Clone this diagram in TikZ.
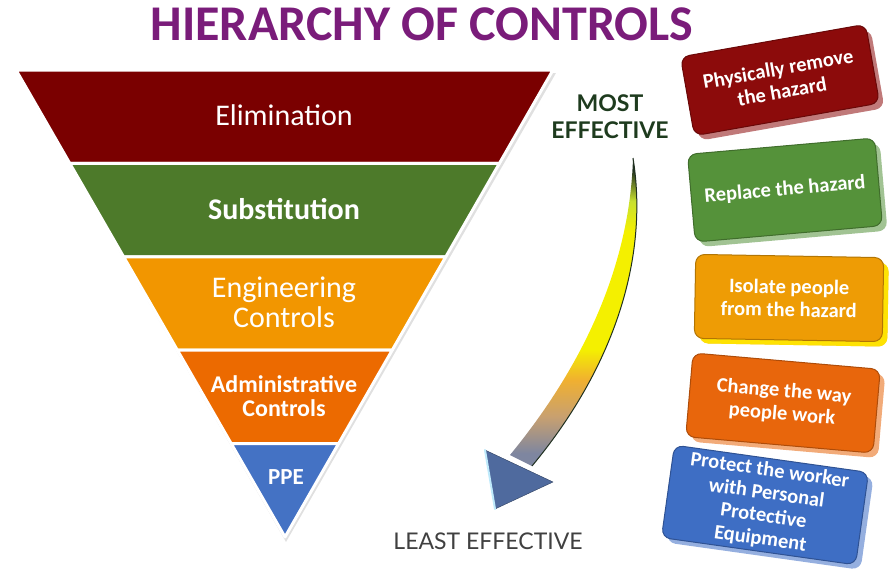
\documentclass[tikz,border=0pt]{standalone}
\usepackage{fontspec}
\setmainfont{Carlito}
\newfontfamily\labelfont{Lato}
\usetikzlibrary{calc,positioning,shadows}
\definecolor{titlepurple}{HTML}{7A1C7A}
\definecolor{elimred}{HTML}{7A0000}
\definecolor{substgreen}{HTML}{4D7A2A}
\definecolor{enggold}{HTML}{F29600}
\definecolor{adminorange}{HTML}{EC6A00}
\definecolor{ppeblue}{HTML}{4472C4}
\definecolor{boxred}{HTML}{8C0B0B}
\definecolor{boxgreen}{HTML}{55923A}
\definecolor{boxgold}{HTML}{EE9C05}
\definecolor{boxorange}{HTML}{E8660C}
\definecolor{boxblue}{HTML}{3E6EC4}
\definecolor{mostgreen}{HTML}{1E3B1E}
\definecolor{headblue}{HTML}{4F6A9E}
\definecolor{shaftgray}{HTML}{7E86A0}
\definecolor{shafttan}{HTML}{C8A070}
\definecolor{shaftorange}{HTML}{F0B030}
\definecolor{shaftyellow}{HTML}{F4F000}
\definecolor{shaftlime}{HTML}{C8E030}
\definecolor{shaftdark}{HTML}{203020}
\pgfdeclareverticalshading{arrowbody}{100bp}{color(0bp)=(shaftgray); color(27bp)=(shaftgray); color(33bp)=(shafttan); color(39bp)=(shaftorange); color(44bp)=(shaftyellow); color(63bp)=(shaftyellow); color(68bp)=(shaftlime); color(73bp)=(shaftdark); color(100bp)=(shaftdark)}
\tikzset{
    %Define style for the bands of the triangle
    band/.style={
           fill=#1,
           draw=white,
           line width=3pt,
           line join=round},
    %Define style for band labels
    bandtext/.style={
           text=white,
           align=center,
           font=\fontsize{30}{30}\selectfont},
    %Define style for boxes on the right
    kasse/.style={
           rectangle,
           rounded corners=9pt,
           fill=#1,
           draw=#1!75!black,
           line width=1pt,
           minimum width=188pt,
           minimum height=80pt,
           text=white,
           align=center,
           font=\bfseries\fontsize{20.5}{23}\selectfont,
           general shadow={fill=#1!55!white, shadow xshift=5pt, shadow yshift=-5pt}},
    % Define style for side labels
    seite/.style={
           align=center,
           font=\labelfont\fontsize{23}{27}\selectfont}
}
\begin{document}
\begin{tikzpicture}[x=1pt, y=-1pt]
  \useasboundingbox (0,0) rectangle (892,568);
  \node[text=titlepurple, font=\bfseries\fontsize{50}{54}\selectfont] (title) at (422,24) {HIERARCHY OF CONTROLS};
  % inverted triangle
  \coordinate (tl) at (16,70);
  \coordinate (tr) at (553,70);
  \coordinate (apex) at (285,537);
  \fill[black!12] ($(tl)+(1,3)$) -- ($(tr)+(3,3)$) -- ($(apex)+(1,5)$) -- cycle;
  \foreach \i/\col in {0/elimred,1/substgreen,2/enggold,3/adminorange,4/ppeblue}{
    \pgfmathsetmacro\a{0.2*\i}
    \pgfmathsetmacro\b{0.2*(\i+1)}
    \filldraw[band=\col] ($(tl)!\a!(apex)$) -- ($(tr)!\a!(apex)$) -- ($(tr)!\b!(apex)$) -- ($(tl)!\b!(apex)$) -- cycle;
  }
  \node[bandtext] (elim) at (284,115) {Elimination};
  \node[bandtext, font=\bfseries\fontsize{30}{30}\selectfont] (subst) at (284,209) {Substitution};
  \node[bandtext] (eng) at (284,302) {Engineering\\Controls};
  \node[bandtext, font=\bfseries\fontsize{24}{24.5}\selectfont] (admin) at (284,396) {Administrative\\Controls};
  \node[bandtext, font=\bfseries\fontsize{23}{24}\selectfont] (ppe) at (286,477) {PPE};
  % boxes on the right
  \node[kasse=boxred, rotate=10] (remove) at (780,80) {Physically remove\\the hazard};
  \node[kasse=boxgreen, rotate=5, minimum height=88pt] (replace) at (785,190) {Replace the hazard};
  \node[kasse=boxgold, rotate=-1, minimum height=84pt, general shadow={fill=yellow!85!orange, shadow xshift=5pt, shadow yshift=-5pt}] (isolate) at (789,298) {Isolate people\\from the hazard};
  \node[kasse=boxorange, rotate=-5, minimum height=84pt] (change) at (783,403) {Change the way\\people work};
  \node[kasse=boxblue, rotate=-8, minimum width=196pt, minimum height=86pt] (protect) at (765,505) {Protect the worker\\with Personal\\Protective\\Equipment};
  % effectiveness arrow
  \node[seite, text=mostgreen, font=\labelfont\bfseries\fontsize{23}{27}\selectfont] (most) at (610,117) {MOST\\EFFECTIVE};
  \coordinate (arrowstart) at (633,158);
  \coordinate (headL) at (485,450);
  \coordinate (headR) at (553,482);
  \coordinate (arrowtip) at (495,509);
  \shade[shading=arrowbody] (arrowstart) .. controls (648,250) and (620,360) .. (532,466) -- (510,455) .. controls (588,360) and (630,260) .. (arrowstart);
  \draw[shaftdark, line width=1pt] (arrowstart) .. controls (648,250) and (620,360) .. (532,466);
  \filldraw[fill=headblue, draw=headblue!60!black] (headL) -- (arrowtip) -- (headR) -- cycle;
  \draw[cyan!25, line width=2pt, line cap=round] (headL) -- (arrowtip);
  \node[seite, text=black!75] (least) at (488,541) {LEAST EFFECTIVE};
\end{tikzpicture}
\end{document}
